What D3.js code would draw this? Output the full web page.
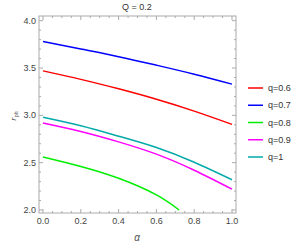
<!DOCTYPE html>
<html><head><meta charset="utf-8">
<script src="https://cdn.jsdelivr.net/npm/d3@7"></script>
<style>body{margin:0;background:#fff}svg{display:block}text{font-family:"Liberation Sans",Arial,sans-serif}</style>
</head><body>
<svg id="c" width="300" height="245"></svg>
<script>
const alphaFull = [0, 0.2, 0.4, 0.6, 0.8, 1.0];
const alphaGreen = [0, 0.2, 0.4, 0.6, 0.72];
const q06 = [3.47, 3.38, 3.28, 3.17, 3.045, 2.905];
const q07 = [3.78, 3.70, 3.62, 3.53, 3.435, 3.33];
const q08 = [2.56, 2.46, 2.335, 2.16, 2.00];
const q09 = [2.92, 2.83, 2.72, 2.59, 2.42, 2.22];
const q1  = [2.98, 2.89, 2.78, 2.66, 2.505, 2.32];
const seriesNames = ["q=0.6", "q=0.7", "q=0.8", "q=0.9", "q=1"];
const seriesColors = ["#ff0000", "#0000ff", "#00ee00", "#ff00ff", "#00aaaa"];
const xTicks = [0, 0.2, 0.4, 0.6, 0.8, 1.0];
const yTicks = [2.0, 2.5, 3.0, 3.5, 4.0];
const title = "Q = 0.2";

const series = [
  {name: seriesNames[0], color: seriesColors[0], xs: alphaFull, ys: q06},
  {name: seriesNames[1], color: seriesColors[1], xs: alphaFull, ys: q07},
  {name: seriesNames[2], color: seriesColors[2], xs: alphaGreen, ys: q08},
  {name: seriesNames[3], color: seriesColors[3], xs: alphaFull, ys: q09},
  {name: seriesNames[4], color: seriesColors[4], xs: alphaFull, ys: q1}
];

const svg = d3.select("#c");
const x = d3.scaleLinear().domain([0, 1]).range([43, 232]);
const y = d3.scaleLinear().domain([2, 4]).range([210, 20.7]);
const fx0 = 39, fx1 = 236, fy0 = 16, fy1 = 213;
const frameCol = "#aaaaaa";

svg.append("rect").attr("x", fx0).attr("y", fy0).attr("width", fx1 - fx0).attr("height", fy1 - fy0)
  .attr("fill", "none").attr("stroke", frameCol).attr("stroke-width", 1);

const xMinor = d3.range(0, 1.0001, 0.05);
xMinor.forEach(v => {
  const major = xTicks.some(t => Math.abs(t - v) < 1e-6);
  const len = major ? 4 : 2;
  svg.append("line").attr("x1", x(v)).attr("x2", x(v)).attr("y1", fy1).attr("y2", fy1 - len).attr("stroke", frameCol);
  svg.append("line").attr("x1", x(v)).attr("x2", x(v)).attr("y1", fy0).attr("y2", fy0 + len).attr("stroke", frameCol);
});
const yMinor = d3.range(2, 4.0001, 0.1);
yMinor.forEach(v => {
  const major = yTicks.some(t => Math.abs(t - v) < 1e-6);
  const len = major ? 4 : 2;
  svg.append("line").attr("y1", y(v)).attr("y2", y(v)).attr("x1", fx0).attr("x2", fx0 + len).attr("stroke", frameCol);
  svg.append("line").attr("y1", y(v)).attr("y2", y(v)).attr("x1", fx1).attr("x2", fx1 - len).attr("stroke", frameCol);
});
xTicks.forEach(v => {
  svg.append("text").attr("x", x(v)).attr("y", fy1 + 11).attr("text-anchor", "middle")
    .attr("font-size", 9).attr("fill", "#444").text(v.toFixed(1));
});
yTicks.forEach(v => {
  svg.append("text").attr("x", fx0 - 3).attr("y", y(v) + 3).attr("text-anchor", "end")
    .attr("font-size", 9).attr("fill", "#444").text(v.toFixed(1));
});

const line = d3.line().curve(d3.curveNatural);
series.forEach(s => {
  const pts = s.xs.map((a, i) => [x(a), y(s.ys[i])]);
  svg.append("path").attr("d", line(pts)).attr("fill", "none").attr("stroke", s.color).attr("stroke-width", 1.5);
});

svg.append("text").attr("x", 137).attr("y", 10).attr("text-anchor", "middle").attr("font-size", 9).attr("fill", "#333").text(title);
svg.append("text").attr("x", 137).attr("y", 241).attr("text-anchor", "middle").attr("font-size", 10)
  .attr("font-style", "italic").attr("font-family", "Liberation Serif, serif").attr("fill", "#555").text("α");
const yl = svg.append("text").attr("transform", "translate(16,116) rotate(-90)").attr("text-anchor", "middle")
  .attr("font-size", 9).attr("fill", "#555");
yl.append("tspan").attr("font-style", "italic").attr("font-family", "Liberation Serif, serif").text("r");
yl.append("tspan").attr("font-size", 6).attr("dy", 2).attr("font-family", "Liberation Serif, serif").text("ph");

series.forEach((s, i) => {
  const ly = 88 + i * 17.25;
  svg.append("line").attr("x1", 248).attr("x2", 263).attr("y1", ly).attr("y2", ly).attr("stroke", s.color).attr("stroke-width", 1.5);
  svg.append("text").attr("x", 268).attr("y", ly + 3).attr("font-size", 9).attr("fill", "#333").text(s.name);
});
</script>
</body></html>
